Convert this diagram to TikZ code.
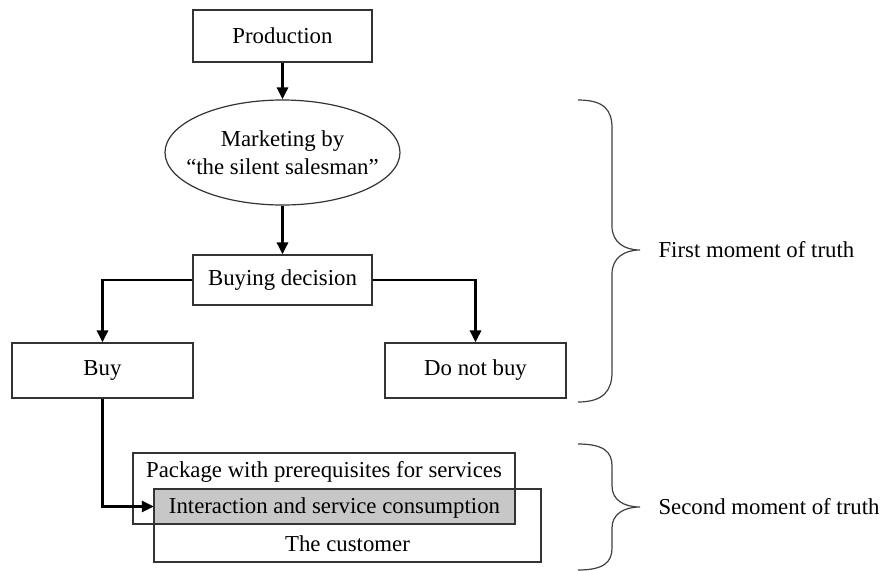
\documentclass[tikz,border=0pt]{standalone}
\usepackage{fontspec}
\setmainfont{Liberation Serif}
\usetikzlibrary{arrows.meta,shapes.geometric}
\begin{document}
\begin{tikzpicture}[x=1pt,y=-1pt,
  font=\fontsize{22.8}{25}\selectfont,
  box/.style={draw=black!80,line width=1.2pt,rectangle,inner sep=0pt},
  flow/.style={line width=2.8pt,-{Triangle[width=11pt,length=12pt]}},
  brace/.style={draw=black!75,line width=1.2pt}
]
\useasboundingbox (0,0) rectangle (885,570);
% nodes
\node[box,minimum width=179pt,minimum height=52pt] (prod) at (282.5,36) {Production};
\node[box,ellipse,minimum width=235pt,minimum height=105pt] (mkt) at (282.5,152.5) {};
\node[align=center,font=\fontsize{22.8}{28}\selectfont] (mktt) at (282.5,153) {Marketing by\\“the silent salesman”};
\node[box,minimum width=179pt,minimum height=50pt] (dec) at (282.5,280) {Buying decision};
\node[box,minimum width=181pt,minimum height=55pt] (buy) at (102.5,370.5) {Buy};
\node[box,minimum width=181pt,minimum height=55pt] (nobuy) at (475.5,370.5) {Do not buy};
\node[rectangle,fill=black!22,inner sep=0pt,minimum width=361pt,minimum height=35pt] (inter) at (334.5,506.5) {};
\node[box,minimum width=382pt,minimum height=71pt] (pkg) at (324,488.5) {};
\node[box,minimum width=387pt,minimum height=73pt] (cust) at (347.5,525.5) {};
\node[anchor=base] (pkgt) at (324,477) {Package with prerequisites for services};
\node[anchor=base] (intert) at (334.5,513) {Interaction and service consumption};
\node[anchor=base] (custt) at (347.5,551) {The customer};
% connectors
\draw[flow] (prod.south) -- (mkt.north);
\draw[flow] (mkt.south) -- (dec.north);
\draw[flow] (dec.west) -| (buy.north);
\draw[flow] (dec.east) -| (nobuy.north);
\draw[flow] (buy.south) |- (inter.west);
% braces
\coordinate (b1) at (640,250);
\draw[brace] (578,100) .. controls (604,100) and (612,110) .. (612,128)
  -- (612,226) .. controls (612,242) and (624,250) .. (b1)
  .. controls (624,250) and (612,258) .. (612,274)
  -- (612,372) .. controls (612,390) and (604,402) .. (578,402);
\node[anchor=west] (first) at (655,250) {First moment of truth};
\coordinate (b2) at (640,507);
\draw[brace] (578,444) .. controls (604,444) and (612,452) .. (612,466)
  -- (612,486) .. controls (612,500) and (624,507) .. (b2)
  .. controls (624,507) and (612,514) .. (612,528)
  -- (612,548) .. controls (612,562) and (604,570) .. (578,570);
\node[anchor=west] (second) at (655,507) {Second moment of truth};
\end{tikzpicture}
\end{document}
